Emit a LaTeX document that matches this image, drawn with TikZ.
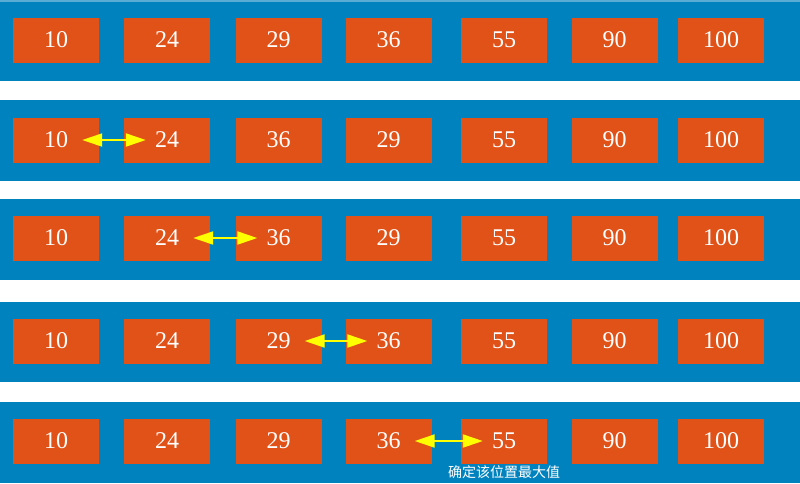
\documentclass[tikz,border=0pt]{standalone}
\usepackage{fontspec}
\setmainfont{Liberation Serif}
\newfontfamily\cjk{Noto Sans CJK SC}
\usetikzlibrary{arrows.meta}
\definecolor{bandblue}{RGB}{0,130,190}
\definecolor{boxorange}{RGB}{224,82,24}
\definecolor{arrowyellow}{RGB}{255,255,0}
\begin{document}
\begin{tikzpicture}[x=1pt,y=-1pt,
  band/.style={fill=bandblue,draw=none},
  numbox/.style={fill=boxorange,draw=none,minimum width=86pt,minimum height=45pt,inner sep=0pt,
    text=white,font=\fontsize{24}{24}\selectfont},
  swaparrow/.style={draw=arrowyellow,line width=2pt,{Triangle[length=20pt,width=13pt]}-{Triangle[length=20pt,width=13pt]},
    shorten <=-17pt,shorten >=-22pt},
  note/.style={text=white,font=\cjk\fontsize{14}{14}\selectfont,inner sep=0pt}]
\useasboundingbox (0,0) rectangle (800,483);
\fill[white] (0,0) rectangle (800,483);
% bands
\path[band] (0,0) rectangle (800,81);
\path[band] (0,100) rectangle (800,181);
\path[band] (0,199) rectangle (800,280);
\path[band] (0,302) rectangle (800,382);
\path[band] (0,402) rectangle (800,483);
\fill[white,opacity=0.35] (0,0) rectangle (800,1.5);
% boxes
\def\xs{56,167,278.5,388.5,504,614.5,721}
\foreach \r/\y/\vals in {1/40/{10,24,29,36,55,90,100},
                         2/140/{10,24,36,29,55,90,100},
                         3/238/{10,24,36,29,55,90,100},
                         4/341/{10,24,29,36,55,90,100},
                         5/441/{10,24,29,36,55,90,100}}{
  \foreach \x [count=\c] in \xs {
    \foreach \v [count=\k] in \vals {
      \ifnum\k=\c
        \node[numbox] (r\r c\c) at (\x,\y) {\v};
      \fi
    }
  }
}
% swap arrows
\draw[swaparrow] (r2c1.east) -- (r2c2.west);
\draw[swaparrow] (r3c2.east) -- (r3c3.west);
\draw[swaparrow] (r4c3.east) -- (r4c4.west);
\draw[swaparrow] (r5c4.east) -- (r5c5.west);
% note
\node[note] (maxnote) at (504,472) {确定该位置最大值};
\end{tikzpicture}
\end{document}
